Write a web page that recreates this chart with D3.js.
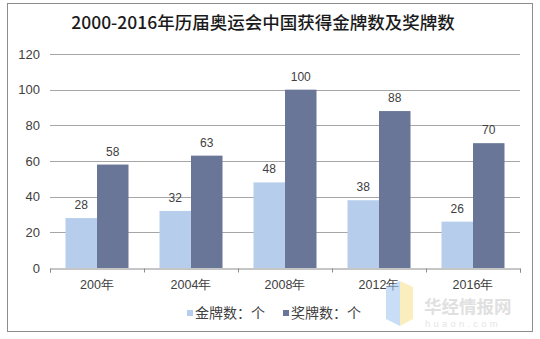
<!DOCTYPE html>
<html><head><meta charset="utf-8">
<script src="https://cdn.jsdelivr.net/npm/d3@7"></script>
<style>body{margin:0;background:#fff;}svg{display:block;font-family:"Liberation Sans",Arial,sans-serif;}</style>
</head><body><svg id="c" width="540" height="339"></svg>
<script>
const categories = ["200年","2004年","2008年","2012年","2016年"];
const seriesNames = ["金牌数：个","奖牌数：个"];
const gold = [28,32,48,38,26];
const medals = [58,63,100,88,70];
const yTicks = [0,20,40,60,80,100,120];
const colors = ["#B6CEEC","#6A7698"];

const svg = d3.select("#c");
svg.append("rect").attr("x",7.5).attr("y",3.5).attr("width",525).attr("height",328)
  .attr("fill","#fff").attr("stroke","#8c8c8c").attr("stroke-width",1);

svg.append("text").attr("x",263).attr("y",29).attr("text-anchor","middle")
  .attr("font-family","'Noto Sans CJK SC','Noto Sans CJK JP',serif").attr("font-weight","500")
  .attr("font-size",17.5).attr("fill","#1a1a1a").text("2000-2016年历届奥运会中国获得金牌数及奖牌数");

const x0 = d3.scaleBand().domain(categories).range([50,520]).paddingInner(0).paddingOuter(0);
const x1 = d3.scaleBand().domain([0,1]).range([15.5, 94-15.5]);
const y = d3.scaleLinear().domain([0,120]).range([268,54]);

// grid
svg.append("g").selectAll("line").data(yTicks.filter(d=>d>0)).join("line")
  .attr("x1",50).attr("x2",520).attr("y1",d=>Math.round(y(d))+0.5).attr("y2",d=>Math.round(y(d))+0.5)
  .attr("stroke","#a6a6a6").attr("stroke-width",1);

// y labels
svg.append("g").selectAll("text").data(yTicks).join("text")
  .attr("x",40).attr("y",d=>y(d)+4.5).attr("text-anchor","end").attr("font-size",13)
  .attr("fill","#404040").text(d=>d);

// bars
const series = [gold, medals];
series.forEach((vals,si)=>{
  svg.append("g").selectAll("rect").data(vals).join("rect")
    .attr("x",(d,i)=>x0(categories[i])+x1(si)).attr("width",x1.bandwidth())
    .attr("y",d=>y(d)).attr("height",d=>y(0)-y(d)).attr("fill",colors[si]);
  svg.append("g").selectAll("text").data(vals).join("text")
    .attr("x",(d,i)=>x0(categories[i])+x1(si)+x1.bandwidth()/2).attr("y",d=>y(d)-9)
    .attr("text-anchor","middle").attr("font-size",12).attr("fill","#404040").text(d=>d);
});

// x axis
const xAxis = d3.axisBottom(d3.scaleLinear().domain([0,5]).range([50,520])).tickValues([0,1,2,3,4,5]).tickSize(4).tickFormat("");
const gx = svg.append("g").attr("transform","translate(0,268.5)").call(xAxis);
gx.select(".domain").attr("stroke","#8c8c8c");
gx.selectAll(".tick line").attr("stroke","#8c8c8c");
svg.append("g").selectAll("text").data(categories).join("text")
  .attr("x",d=>x0(d)+x0.bandwidth()/2).attr("y",289).attr("text-anchor","middle")
  .attr("font-size",12.5).attr("fill","#404040").text(d=>d);

// watermark
const wm = svg.append("g").attr("opacity",0.55);
wm.append("path").attr("d","M386,287 L400,281 L400,326 L386,319 Z").attr("fill","#9cc2f0");
wm.append("path").attr("d","M400,281 L413,287 L413,319 L400,326 Z").attr("fill","#f7e08a");
wm.append("text").attr("x",424).attr("y",313).attr("font-size",17.5).attr("font-weight","bold")
  .attr("font-family","'Noto Sans CJK SC',sans-serif").attr("fill","#c8c8c8").text("华经情报网");
wm.append("text").attr("x",425).attr("y",327).attr("font-size",9.5).attr("letter-spacing",3.2)
  .attr("fill","#d0d0d0").text("huaon.com");

// legend
const lg = [{x:187,name:seriesNames[0],c:colors[0]},{x:283,name:seriesNames[1],c:colors[1]}];
lg.forEach(l=>{
  svg.append("rect").attr("x",l.x).attr("y",310).attr("width",6).attr("height",6).attr("fill",l.c);
  svg.append("text").attr("x",l.x+8).attr("y",317.5).attr("font-size",14)
    .attr("font-family","'Noto Sans CJK SC',sans-serif").attr("fill","#404040").text(l.name);
});
</script></body></html>
